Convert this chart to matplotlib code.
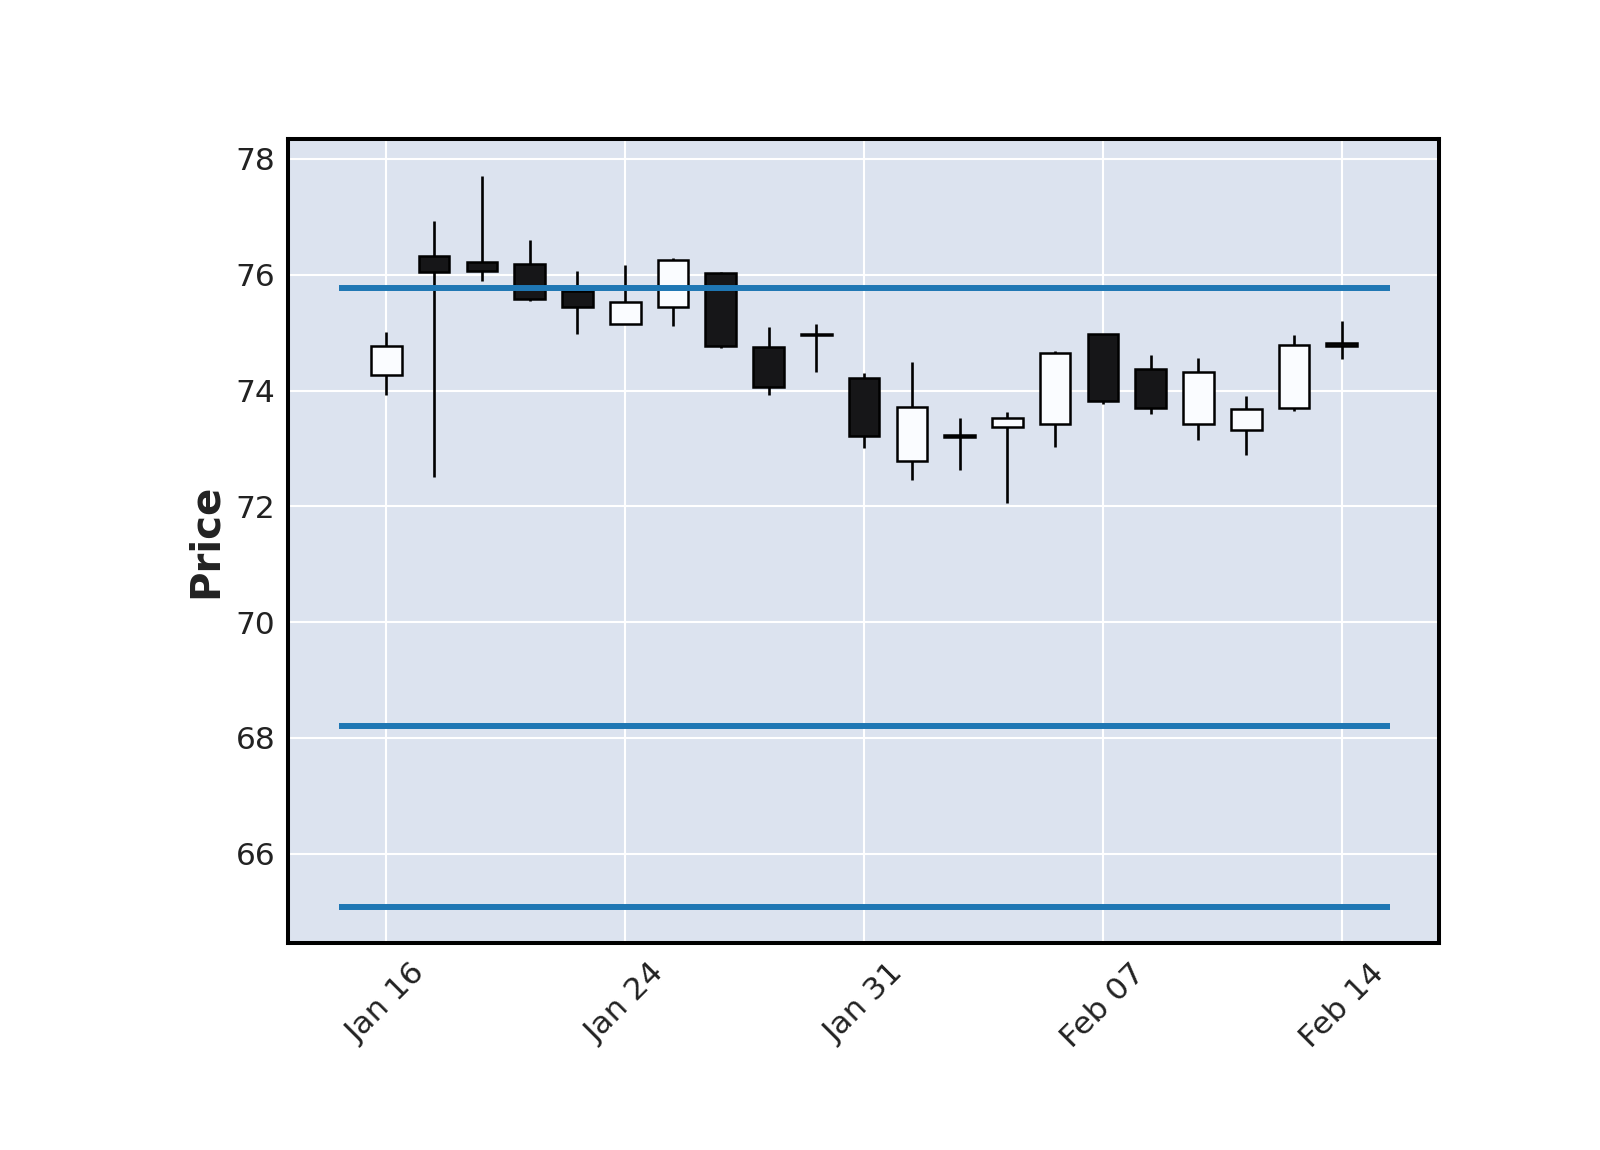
import matplotlib
matplotlib.use("Agg")
import matplotlib.pyplot as plt
from matplotlib.patches import Rectangle

dates = ["Jan 16", "Jan 17", "Jan 21", "Jan 22", "Jan 23", "Jan 24", "Jan 27", "Jan 28",
         "Jan 29", "Jan 30", "Jan 31", "Feb 03", "Feb 04", "Feb 05", "Feb 06", "Feb 07",
         "Feb 10", "Feb 11", "Feb 12", "Feb 13", "Feb 14"]
opens  = [74.27, 76.32, 76.22, 76.18, 75.72, 75.145, 75.44, 76.03, 74.75, 74.97, 74.21,
          72.78, 73.23, 73.37, 73.42, 74.97, 74.37, 73.42, 73.32, 73.70, 74.82]
closes = [74.76, 76.05, 76.07, 75.58, 75.44, 75.53, 76.26, 74.77, 74.06, 74.96, 73.21,
          73.71, 73.19, 73.53, 74.64, 73.82, 73.69, 74.32, 73.68, 74.78, 74.77]
highs  = [75.01, 76.93, 77.70, 76.60, 76.07, 76.17, 76.29, 76.05, 75.09, 75.15, 74.31,
          74.49, 73.52, 73.63, 74.69, 74.98, 74.62, 74.56, 73.91, 74.95, 75.20]
lows   = [73.93, 72.50, 75.89, 75.55, 74.97, 75.14, 75.11, 74.74, 73.92, 74.32, 73.00,
          72.45, 72.62, 72.05, 73.02, 73.76, 73.60, 73.14, 72.89, 73.64, 74.55]
hline_values = [75.77, 68.20, 65.08]
tick_index = [0, 5, 10, 15, 20]
ytick_values = [66, 68, 70, 72, 74, 76, 78]

fig = plt.figure(figsize=(16, 11.5), dpi=100)
ax = fig.add_axes([0.1800, 0.1800, 0.8995 - 0.1800, 0.8795 - 0.1800])
ax.set_facecolor("#DCE3EF")
ax.set_axisbelow(True)
ax.grid(True, color="white", linewidth=1.5)

width = 0.64
n = len(opens)
xs = list(range(n))
ax.vlines(xs, lows, highs, colors="black", linewidth=1.9, zorder=2)
for i in xs:
    o, c = opens[i], closes[i]
    up = c >= o
    bottom = min(o, c)
    h = abs(c - o)
    face = "#FAFCFF" if up else "#161618"
    ax.add_patch(Rectangle((i - width / 2, bottom), width, h, facecolor=face,
                           edgecolor="black", linewidth=1.8, zorder=3))

for v in hline_values:
    ax.hlines(v, -1, 21, colors="#1f77b4", linewidth=4.3, zorder=4)

ax.set_xlim(-2.06, 22.04)
ax.set_ylim(64.46, 78.35)
ax.set_xticks(tick_index)
ax.set_xticklabels([dates[i] for i in tick_index], rotation=45, ha="center")
ax.set_yticks(ytick_values)
ax.tick_params(axis="both", length=0, labelsize=22.5, colors="#222222", pad=9)
ax.tick_params(axis="x", pad=11)
for s in ax.spines.values():
    s.set_linewidth(2.9)
    s.set_color("black")
ax.set_ylabel("Price", fontsize=29, fontweight="bold", color="#222222", labelpad=7)

fig.savefig("out.png", dpi=100)
